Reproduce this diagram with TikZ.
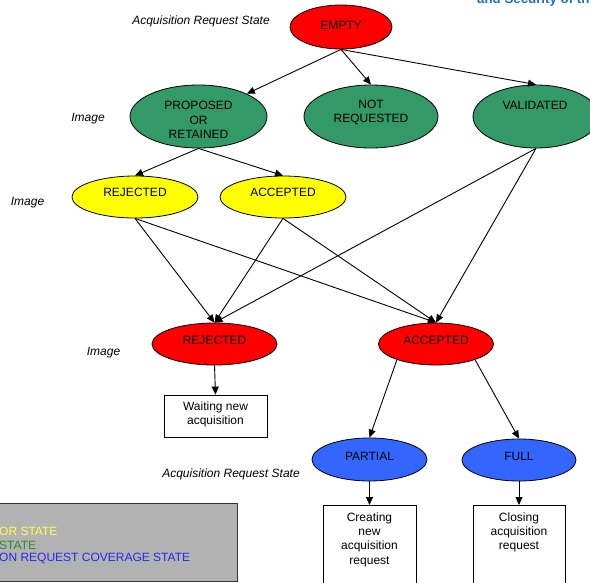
\documentclass[tikz,border=0pt]{standalone}
\usepackage{fontspec}
\setmainfont{Liberation Sans}
\usetikzlibrary{shapes.geometric,arrows.meta}
\definecolor{redst}{RGB}{255,0,0}
\definecolor{greenst}{RGB}{51,153,102}
\definecolor{yellowst}{RGB}{255,255,0}
\definecolor{bluest}{RGB}{51,102,255}
\definecolor{legendgray}{RGB}{178,178,178}
\definecolor{legyellow}{RGB}{255,255,80}
\definecolor{leggreen}{RGB}{40,140,40}
\definecolor{legblue}{RGB}{40,40,240}
\definecolor{headblue}{RGB}{30,110,210}
\tikzset{
  st/.style={ellipse, draw=black, line width=0.8pt, inner sep=0pt},
  txt/.style={font=\fontsize{12}{14.3}\selectfont, inner sep=0pt, align=center},
  itl/.style={font=\fontsize{12}{14}\selectfont\itshape, inner sep=0pt},
  boxst/.style={draw=black, line width=0.8pt, rectangle, inner sep=0pt},
  arr/.style={line width=0.9pt, -{Triangle[length=8pt,width=7pt]}},
  legtxt/.style={font=\fontsize{12}{14}\selectfont, inner sep=0pt, anchor=west}
}
\begin{document}
\begin{tikzpicture}[x=1pt,y=-1pt]
\useasboundingbox (0,0) rectangle (590,582);
\clip (0,0) rectangle (590,582);
% header text (cut off)
\node[anchor=base west, inner sep=0pt, font=\fontsize{13.3}{15}\selectfont\bfseries, text=headblue] (head) at (477,3.5) {and Security of th};
% side labels
\node[itl] (l1) at (201,21) {Acquisition Request State};
\node[itl] (l2) at (88,119) {Image};
\node[itl] (l3) at (27.5,203) {Image};
\node[itl] (l4) at (103.5,353) {Image};
\node[itl] (l5) at (231,474) {Acquisition Request State};
% states
\node[st, fill=redst, minimum width=102pt, minimum height=44pt] (empty) at (341,27) {};
\node[txt] at (341,25) {EMPTY};
\node[st, fill=greenst, minimum width=137pt, minimum height=63pt] (prop) at (198.5,116.5) {};
\node[txt] at (198.5,120) {PROPOSED\\OR\\RETAINED};
\node[st, fill=greenst, minimum width=134pt, minimum height=63pt] (nr) at (371,116.5) {};
\node[txt] at (371,112.5) {NOT\\REQUESTED};
\node[st, fill=greenst, minimum width=126pt, minimum height=63pt] (val) at (536,116.5) {};
\node[txt] at (535,105.5) {VALIDATED};
\node[st, fill=yellowst, minimum width=126pt, minimum height=42pt] (yrej) at (135,197) {};
\node[txt] at (135,192.5) {REJECTED};
\node[st, fill=yellowst, minimum width=126pt, minimum height=42pt] (yacc) at (283,197) {};
\node[txt] at (283,192.5) {ACCEPTED};
\node[st, fill=redst, minimum width=125pt, minimum height=42pt] (rrej) at (214.5,344) {};
\node[txt] at (214.5,340.7) {REJECTED};
\node[st, fill=redst, minimum width=115pt, minimum height=42pt] (racc) at (436,344) {};
\node[txt] at (436,340.7) {ACCEPTED};
\node[st, fill=bluest, minimum width=115pt, minimum height=43pt] (part) at (369.5,459.5) {};
\node[txt] at (369.5,456.7) {PARTIAL};
\node[st, fill=bluest, minimum width=114pt, minimum height=42pt] (full) at (519,460) {};
\node[txt] at (519,456.7) {FULL};
% boxes
\node[boxst, minimum width=103pt, minimum height=42pt] (wait) at (215.5,416) {};
\node[txt] at (215.5,414.5) {Waiting new\\acquisition};
\node[boxst, anchor=north, minimum width=93pt, minimum height=100pt] (create) at (369.5,505) {};
\node[txt] at (369.5,539.5) {Creating\\new\\acquisition\\request};
\node[boxst, anchor=north, minimum width=92pt, minimum height=100pt] (close) at (519,505) {};
\node[txt] at (519,532.5) {Closing\\acquisition\\request};
% connectors
\draw[arr] (empty.south) -- (prop);
\draw[arr] (empty.south) -- (nr.north);
\draw[arr] (empty.south) -- (val.north);
\draw[arr] (prop.south) -- (yrej.north);
\draw[arr] (prop.south) -- (yacc.north);
\draw[arr] (yrej.south) -- (rrej.north);
\draw[arr] (yrej.south) -- (racc.north);
\draw[arr] (yacc.south) -- (rrej.north);
\draw[arr] (yacc.south) -- (racc.north);
\draw[arr] (val.south) -- (rrej.north);
\draw[arr] (val.south) -- (racc.north);
\draw[arr] (rrej.south) -- (wait.north);
\draw[arr] (racc.202) -- (part.north);
\draw[arr] (racc.338) -- (full.north);
\draw[arr] (part.south) -- (create.north);
\draw[arr] (full.south) -- (close.north);
% legend
\draw[fill=legendgray, draw=black!80, line width=1pt] (-3,503.5) rectangle (237.5,581.5);
\node[legtxt, text=legyellow] (lg1) at (-1,531.5) {OR STATE};
\node[legtxt, text=leggreen] (lg2) at (-1,545) {STATE};
\node[legtxt, text=legblue] (lg3) at (-1,558.5) {ON REQUEST COVERAGE STATE};
\end{tikzpicture}
\end{document}
